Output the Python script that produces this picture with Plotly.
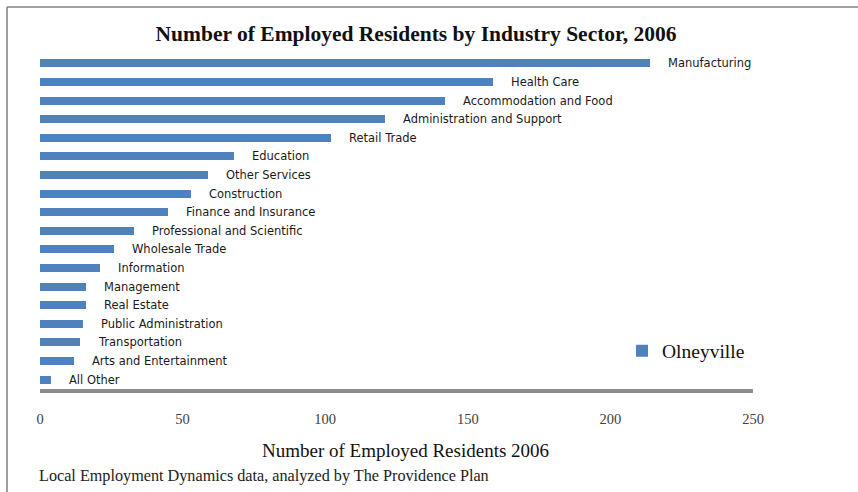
import plotly.graph_objects as go

# Employed residents of Olneyville by industry sector, 2006 (largest first)
sectors = [
    "Manufacturing", "Health Care", "Accommodation and Food",
    "Administration and Support", "Retail Trade", "Education",
    "Other Services", "Construction", "Finance and Insurance",
    "Professional and Scientific", "Wholesale Trade", "Information",
    "Management", "Real Estate", "Public Administration",
    "Transportation", "Arts and Entertainment", "All Other",
]
residents = [214, 159, 142, 121, 102, 68, 59, 53, 45, 33, 26, 21, 16, 16, 15, 14, 12, 4]
series_name = "Olneyville"
x_ticks = [0, 50, 100, 150, 200, 250]

W, H = 858, 492
ML, MR, MT, MB = 40, 105, 54, 103
PW, PH = W - ML - MR, H - MT - MB

BLUE = "#4f81bd"
SERIF = "Liberation Serif, Times New Roman, serif"
SANS = "DejaVu Sans, sans-serif"


def px_x(px):
    """Pixel column -> paper x."""
    return (px - ML) / PW


def px_y(py):
    """Pixel row -> paper y."""
    return (H - MB - py) / PH


fig = go.Figure()
fig.add_trace(go.Bar(
    x=residents, y=sectors, orientation="h",
    name=series_name, width=0.43,
    marker=dict(color=BLUE, line=dict(width=0)),
    showlegend=True,
))

# sector names sit just past the end of each bar
for s, v in zip(sectors, residents):
    fig.add_annotation(
        x=v, y=s, xref="x", yref="y", text=s, showarrow=False,
        xanchor="left", yanchor="middle", xshift=16,
        font=dict(family=SANS, size=11.5, color="#1a1a1a"),
    )

# x-axis title, set slightly right of the plot centre
fig.add_annotation(
    x=px_x(405), y=px_y(450), xref="paper", yref="paper",
    text="Number of Employed Residents 2006",
    showarrow=False, xanchor="center", yanchor="middle",
    font=dict(family=SERIF, size=19, color="#111111"),
)

# source note
fig.add_annotation(
    x=px_x(37), y=px_y(476), xref="paper", yref="paper",
    text="Local Employment Dynamics data, analyzed by The Providence Plan",
    showarrow=False, xanchor="left", yanchor="middle",
    font=dict(family=SERIF, size=16.2, color="#222222"),
)

# chart-area frame (top and left edges)
fig.add_shape(type="line", xref="paper", yref="paper",
              x0=px_x(7), x1=px_x(W + 20), y0=px_y(7), y1=px_y(7),
              line=dict(color="#808080", width=1.5))
fig.add_shape(type="line", xref="paper", yref="paper",
              x0=px_x(7), x1=px_x(7), y0=px_y(7), y1=px_y(H + 20),
              line=dict(color="#808080", width=1.5))

fig.update_layout(
    width=W, height=H, autosize=False,
    margin=dict(l=ML, r=MR, t=MT, b=MB, pad=0),
    paper_bgcolor="white", plot_bgcolor="white",
    title=dict(
        text="<b>Number of Employed Residents by Industry Sector, 2006</b>",
        x=416 / W, xanchor="center", xref="container",
        y=1 - 33 / H, yanchor="middle", yref="container",
        font=dict(family=SERIF, size=21.5, color="#111111"),
    ),
    xaxis=dict(
        range=[0, 250], tickvals=x_ticks, showgrid=False, zeroline=False,
        showline=True, linecolor="#8c8c8c", linewidth=4,
        ticks="outside", ticklen=0, ticklabelstandoff=14,
        tickfont=dict(family=SERIF, size=14.5, color="#404040"),
    ),
    yaxis=dict(
        autorange=False, range=[len(sectors) - 0.5, -0.5],
        showticklabels=False, showgrid=False, zeroline=False, showline=False,
        ticks="",
    ),
    legend=dict(
        x=px_x(622), y=px_y(351), xanchor="left", yanchor="middle",
        bgcolor="rgba(0,0,0,0)", borderwidth=0,
        font=dict(family=SERIF, size=19.5, color="#111111"),
    ),
    bargap=0,
)

fig.write_html("out.html")
